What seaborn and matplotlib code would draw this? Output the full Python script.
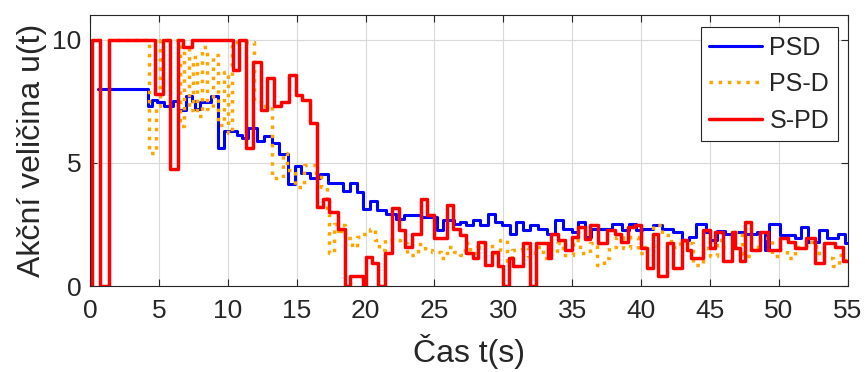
import pandas as pd
import matplotlib
matplotlib.use("Agg")
import matplotlib.pyplot as plt
import seaborn as sns

# PSD (blue) - step breakpoints, time [s] and value
psd_t = [0.6, 4.23, 4.5, 4.9, 5.4, 6.0, 6.4, 7.0, 7.4, 7.6,
         8.0, 8.8, 9.3, 9.7, 10.7, 11.0, 11.5, 12.1, 12.6, 13.2,
         13.7, 14.4, 14.9, 15.3, 16.0, 16.7, 17.3, 18.4, 18.9, 19.4,
         19.8, 20.3, 20.8, 21.5, 22.2, 22.8, 24.0, 25.2, 25.6, 26.4,
         26.85, 27.33, 27.82, 28.3, 28.9, 29.4, 29.9, 30.5, 30.96, 31.45,
         31.93, 32.53, 33.14, 33.74, 34.35, 34.96, 35.44, 35.92, 36.4, 37.9,
         38.6, 39.1, 39.6, 40.1, 40.9, 41.5, 42.3, 43.0, 43.5, 44.0,
         44.7, 45.0, 45.5, 46.1, 46.8, 47.5, 48.4, 48.97, 49.3, 50.07,
         51.16, 51.6, 52.1, 52.9, 53.5, 54.3, 54.8, 55.0]
psd_u = [8.0, 7.3, 7.55, 7.45, 7.3, 7.5, 7.15, 7.7, 7.5, 7.2,
         7.45, 7.7, 5.6, 6.3, 6.13, 6.0, 6.41, 5.87, 6.1, 5.8,
         5.34, 4.14, 4.87, 4.6, 4.4, 4.55, 4.18, 3.87, 4.2, 3.8,
         3.13, 3.47, 3.07, 2.93, 2.73, 2.87, 2.8, 2.26, 2.7, 2.5,
         2.6, 2.46, 2.66, 2.46, 2.93, 2.6, 2.46, 2.13, 2.6, 2.26,
         2.46, 2.33, 2.13, 2.66, 2.33, 2.2, 2.6, 2.0, 2.3, 2.53,
         2.26, 2.53, 2.26, 2.33, 2.46, 2.33, 2.2, 1.86, 2.0, 2.53,
         2.2, 1.86, 2.22, 2.1, 2.2, 2.13, 2.2, 1.46, 2.53, 2.06,
         1.93, 2.4, 1.8, 2.26, 1.93, 2.13, 1.73, 1.73]

# PS-D (orange dotted)
psd2_t = [0.6, 4.3, 4.8, 5.1, 6.5, 6.8, 7.2, 7.5, 7.8, 8.1,
          8.5, 8.95, 9.3, 9.7, 10.0, 10.3, 11.9, 12.4, 13.2, 14.0,
          14.3, 14.9, 15.5, 16.4, 16.8, 17.2, 17.35, 17.7, 18.0, 18.2,
          18.5, 19.0, 19.4, 19.7, 20.3, 20.7, 21.0, 21.4, 21.9, 22.5,
          23.0, 23.8, 24.3, 24.8, 25.5, 25.9, 26.4, 26.85, 27.21, 27.58,
          28.06, 28.66, 29.15, 29.75, 30.24, 30.6, 31.33, 31.8, 32.29, 32.9,
          33.38, 33.87, 34.35, 35.07, 35.56, 36.3, 36.8, 37.3, 37.7, 38.2,
          38.7, 39.2, 39.8, 40.2, 40.9, 41.5, 42.2, 42.8, 43.2, 43.8,
          44.5, 45.0, 45.5, 45.96, 46.7, 47.3, 48.0, 48.6, 49.5, 50.0,
          50.6, 51.2, 52.0, 52.7, 53.3, 53.9, 54.4, 54.8, 55.0]
psd2_u = [10, 5.4, 7.3, 10, 6.5, 9.6, 7.15, 9.3, 6.9, 9.7,
          7.2, 9.36, 6.55, 8.7, 6.2, 9.9, 7.5, 7.3, 4.4, 5.4,
          4.7, 4.0, 4.9, 4.5, 4.0, 2.93, 1.33, 2.53, 2.13, 2.46,
          1.93, 1.6, 2.0, 2.13, 2.33, 1.85, 1.46, 1.9, 1.85, 1.73,
          1.26, 1.7, 1.46, 1.4, 1.12, 1.6, 1.4, 1.26, 1.73, 1.33,
          1.6, 1.7, 1.33, 1.86, 1.0, 1.46, 1.6, 1.2, 1.6, 1.13,
          1.33, 1.73, 1.26, 1.86, 1.33, 1.73, 0.86, 1.13, 1.6, 2.0,
          1.53, 2.0, 1.33, 1.6, 2.46, 2.06, 1.6, 1.86, 1.73, 0.86,
          1.53, 1.2, 1.86, 1.6, 2.2, 1.2, 1.6, 1.93, 1.2, 1.46,
          1.13, 1.6, 1.8, 1.33, 1.13, 0.8, 1.26, 0.9, 0.9]

# S-PD (red)
spd_t = [0, 0.15, 0.75, 1.35, 4.72, 5.32, 5.8, 6.36, 6.75, 7.38,
         10.35, 10.84, 11.32, 11.85, 12.4, 12.87, 13.35, 13.84, 14.44, 14.93,
         15.36, 15.96, 16.45, 16.93, 17.37, 18.0, 18.5, 18.9, 19.83, 20.0,
         20.5, 20.93, 21.4, 21.9, 22.4, 22.9, 23.4, 24.0, 24.43, 24.99,
         25.88, 26.37, 26.85, 27.33, 27.82, 28.18, 28.66, 29.15, 29.63, 30.0,
         30.43, 30.72, 31.45, 31.93, 32.41, 33.26, 33.5, 34.0, 34.47, 34.96,
         35.44, 35.92, 36.3, 36.89, 37.5, 38.1, 38.58, 39.06, 39.55, 40.03,
         40.4, 40.88, 41.24, 41.85, 42.33, 42.94, 43.3, 43.66, 44.5, 45.0,
         45.36, 45.96, 46.57, 46.8, 47.17, 47.55, 48.0, 48.6, 49.2, 50.07,
         50.67, 51.16, 52.0, 52.6, 53.3, 54.06, 54.67, 55.0]
spd_u = [0, 10, 0, 10, 7.8, 10, 4.75, 10, 9.7, 10,
         8.75, 10, 5.6, 9.1, 7.15, 8.45, 7.3, 7.45, 8.55, 7.75,
         7.55, 6.6, 3.22, 3.53, 3.0, 2.33, 0, 0.4, 0, 1.19,
         0.92, 0, 1.33, 3.16, 2.26, 1.59, 2.13, 3.53, 2.89, 1.96,
         3.27, 2.33, 2.06, 1.33, 1.13, 1.8, 0.86, 1.39, 0.8, 0,
         1.13, 0.8, 1.73, 0, 1.73, 1.13, 2.13, 1.86, 1.46, 2.0,
         2.4, 1.9, 2.46, 1.73, 2.26, 2.13, 1.8, 2.4, 2.46, 1.53,
         0.72, 2.13, 0.39, 1.73, 0.72, 1.86, 1.46, 1.12, 2.26, 1.53,
         2.2, 1.0, 2.2, 1.53, 1.0, 2.6, 1.46, 2.2, 1.46, 1.96,
         1.8, 1.53, 1.93, 0.92, 1.73, 1.6, 1.0, 1.0]

series = [
    ("PSD", psd_t, psd_u, "#0000ff", "-", 2.2),
    ("PS-D", psd2_t, psd2_u, "#ffa500", ":", 2.5),
    ("S-PD", spd_t, spd_u, "#ff0000", "-", 2.5),
]

sns.set_theme(style="ticks")
plt.rcParams["font.family"] = ["Liberation Sans", "DejaVu Sans"]

fig = plt.figure(figsize=(8.65, 3.72), dpi=100)
ax = fig.add_axes([0.104, 0.231, 0.876, 0.729])

for name, t, u, color, ls, lw in series:
    df = pd.DataFrame({"t": t, "u": u})
    sns.lineplot(data=df, x="t", y="u", ax=ax, color=color, linestyle=ls,
                 linewidth=lw, drawstyle="steps-post", estimator=None,
                 sort=False, label=name)

ax.set_xlim(0, 55)
ax.set_ylim(0, 11)
ax.set_xticks(range(0, 56, 5))
ax.set_yticks([0, 5, 10])
ax.grid(True, color="#d9d9d9", linewidth=0.8)
ax.tick_params(direction="in", top=True, right=True, labelsize=19,
               length=5, width=0.8, colors="#262626")
ax.tick_params(axis="x", pad=9)
ax.tick_params(axis="y", pad=6)
for s in ax.spines.values():
    s.set_color("#262626")
    s.set_linewidth(0.8)

ax.set_xlabel("Čas t(s)", fontsize=23, color="#262626", labelpad=8)
ax.set_ylabel("Akční veličina u(t)", fontsize=23, color="#262626", labelpad=4)

leg = ax.legend(loc="upper right", fontsize=18, frameon=True, fancybox=False,
                handlelength=2.1, handletextpad=0.3, borderpad=0.35,
                labelspacing=0.5, borderaxespad=0,
                bbox_to_anchor=(0.987, 0.956))
leg.get_frame().set_edgecolor("#262626")
leg.get_frame().set_linewidth(0.8)
leg.get_frame().set_alpha(1)

fig.savefig("out.png", dpi=100)
